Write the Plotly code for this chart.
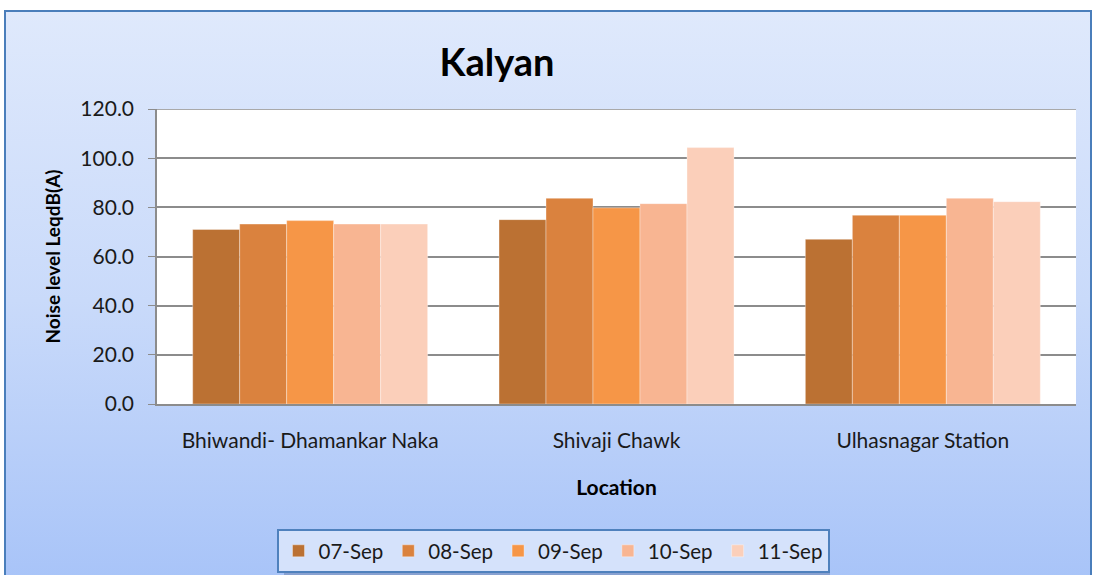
import base64
import plotly.graph_objects as go

locations = ["Bhiwandi- Dhamankar Naka", "Shivaji Chawk", "Ulhasnagar Station"]
dates = ["07-Sep", "08-Sep", "09-Sep", "10-Sep", "11-Sep"]
values = {
    "07-Sep": [71.0, 75.0, 67.0],
    "08-Sep": [73.2, 83.7, 76.8],
    "09-Sep": [74.6, 79.8, 76.8],
    "10-Sep": [73.2, 81.5, 83.7],
    "11-Sep": [73.2, 104.3, 82.3],
}
colors = ["#BB7133", "#DA823E", "#F69647", "#F8B592", "#FBCFBA"]
y_ticks = [0, 20, 40, 60, 80, 100, 120]

W, H = 1096, 575
ML, MR, MT, MB = 157, 20, 109, 171
PW, PH = W - ML - MR, H - MT - MB


def px_x(p):
    return (p - ML) / PW


def px_y(p):
    return (H - MB - p) / PH


fig = go.Figure()
for d, c in zip(dates, colors):
    fig.add_trace(go.Bar(
        name=d, x=locations, y=values[d],
        marker=dict(color=c, line=dict(color="rgba(255,255,255,0.35)", width=1)),
    ))

svg = ('<svg xmlns="http://www.w3.org/2000/svg" width="100" height="100" '
       'viewBox="0 0 100 100" preserveAspectRatio="none">'
       '<defs><linearGradient id="g" x1="0" y1="0" x2="0" y2="1">'
       '<stop offset="0" stop-color="#DFE9FC"/>'
       '<stop offset="0.5" stop-color="#C9DAFA"/>'
       '<stop offset="1" stop-color="#A7C3F8"/>'
       '</linearGradient></defs>'
       '<rect width="100" height="100" fill="url(#g)"/></svg>')
src = "data:image/svg+xml;base64," + base64.b64encode(svg.encode()).decode()

fx0, fx1 = px_x(5), px_x(1091)
fy0, fy1 = px_y(590), px_y(11)
fig.add_layout_image(dict(
    source=src, xref="paper", yref="paper", x=fx0, y=fy1,
    sizex=fx1 - fx0, sizey=fy1 - fy0, sizing="stretch",
    xanchor="left", yanchor="top", layer="below",
))

shapes = [
    # chart frame
    dict(type="rect", xref="paper", yref="paper", x0=fx0, x1=fx1, y0=fy0, y1=fy1,
         line=dict(color="#4A7EBB", width=2), fillcolor="rgba(0,0,0,0)", layer="below"),
    # plot area
    dict(type="rect", xref="paper", yref="paper", x0=0, x1=1, y0=0, y1=1,
         line=dict(width=0), fillcolor="white", layer="below"),
    # legend shadow
    dict(type="rect", xref="paper", yref="paper",
         x0=px_x(284), x1=px_x(830), y0=px_y(576), y1=px_y(533),
         line=dict(width=0), fillcolor="rgba(60,80,120,0.30)", layer="below"),
]

fig.update_layout(
    width=W, height=H,
    margin=dict(l=ML, r=MR, t=MT, b=MB, autoexpand=False),
    paper_bgcolor="white",
    plot_bgcolor="rgba(0,0,0,0)",
    shapes=shapes,
    barmode="group", bargap=0.233, bargroupgap=0,
    font=dict(family="Lato, Carlito, sans-serif", color="#1a1a1a"),
    title=dict(text="<b>Kalyan</b>", x=497 / W, xanchor="center",
               y=1 - 63 / H, yanchor="middle",
               font=dict(size=38, color="black", family="Lato, sans-serif")),
    xaxis=dict(
        automargin=False,
        showline=True, linecolor="#8C8C8C", linewidth=1.5,
        ticks="outside", ticklen=17, tickcolor="rgba(0,0,0,0)",
        tickfont=dict(size=21),
        title=dict(text="<b>Location</b>", font=dict(size=21, color="black"), standoff=29),
    ),
    yaxis=dict(
        automargin=False,
        range=[0, 120], tickvals=y_ticks, tickformat=".1f",
        showline=True, linecolor="#8C8C8C", linewidth=1.5,
        ticks="outside", ticklen=7, tickcolor="#8C8C8C",
        ticklabelstandoff=10,
        gridcolor="#8C8C8C", gridwidth=1.5,
        tickfont=dict(size=21),
        title=dict(text="<b>Noise level LeqdB(A)</b>", font=dict(size=19, color="black"), standoff=15),
    ),
    legend=dict(
        orientation="h", x=px_x(553), xanchor="center", y=px_y(529), yanchor="top",
        bgcolor="#D5E2FB", bordercolor="#4F81BD", borderwidth=2,
        font=dict(size=20.5), itemwidth=30,
    ),
    showlegend=True,
)
fig.add_shape(type="line", xref="paper", yref="y", x0=0, x1=1, y0=120, y1=120,
              line=dict(color="#8C8C8C", width=1.5))

fig.write_html("out.html", config={"displayModeBar": False},
               post_script="document.body.style.margin='0';")
